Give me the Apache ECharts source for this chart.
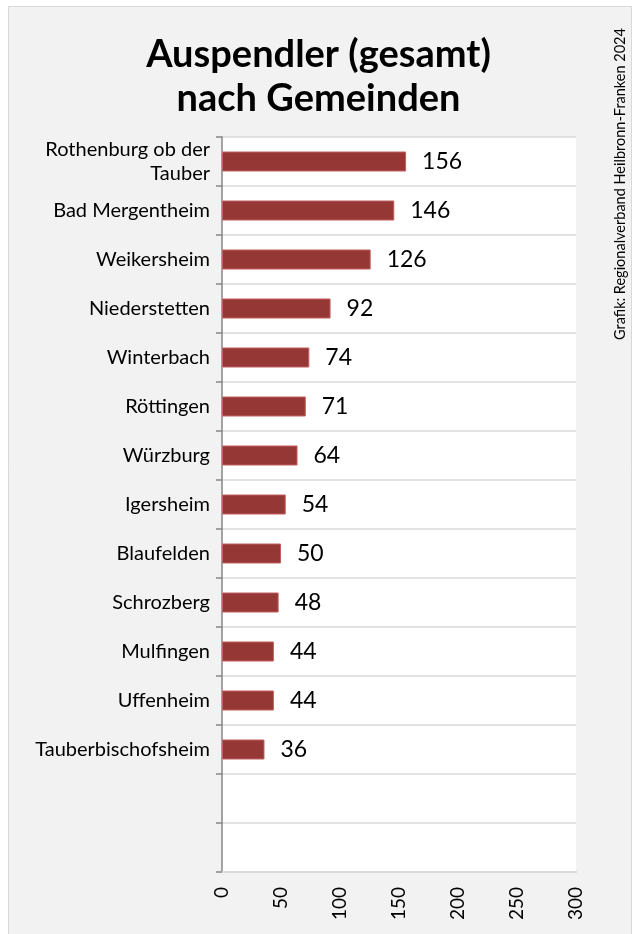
<!DOCTYPE html>
<html>
<head>
<meta charset="utf-8">
<script src="https://cdn.jsdelivr.net/npm/echarts@6/dist/echarts.min.js"></script>
<style>
html,body{margin:0;padding:0;background:#fff;}
#chart{width:637px;height:934px;}
</style>
</head>
<body>
<div id="chart"></div>
<script>
const categories = ['Rothenburg ob der\nTauber','Bad Mergentheim','Weikersheim','Niederstetten','Winterbach','Röttingen','Würzburg','Igersheim','Blaufelden','Schrozberg','Mulfingen','Uffenheim','Tauberbischofsheim',' ','  '];
const values = [156,146,126,92,74,71,64,54,50,48,44,44,36];
const xTicks = [0,50,100,150,200,250,300];
const titleText = 'Auspendler (gesamt)\nnach Gemeinden';
const sourceText = 'Grafik: Regionalverband Heilbronn-Franken 2024';

const FONT = 'Lato, "Open Sans", sans-serif';
const chart = echarts.init(document.getElementById('chart'), null, {renderer:'canvas'});
chart.setOption({
  backgroundColor: '#ffffff',
  animation: false,
  textStyle: {fontFamily: FONT},
  title: {
    text: titleText,
    left: 'center',
    top: 28,
    textStyle: {fontFamily: FONT, fontSize: 38, fontWeight: 'bold', color: '#000', lineHeight: 44}
  },
  graphic: [
    {type:'rect', z:-100, shape:{x:8.5, y:6.5, width:623, height:960}, style:{fill:'#f2f2f2', stroke:'#d9d9d9', lineWidth:1}},
    {type:'text', x:620, y:184, rotation: Math.PI/2, style:{text: sourceText, fontFamily: FONT, fontSize: 14.5, fill:'#000', align:'center', verticalAlign:'middle'}}
  ],
  grid: {left:222, top:137, right:61, bottom:62, show:true, backgroundColor:'#ffffff', borderWidth:0, containLabel:false},
  xAxis: {
    type:'value', min: xTicks[0], max: xTicks[xTicks.length-1], interval: xTicks[1]-xTicks[0],
    axisLine:{show:true, lineStyle:{color:'#d9d9d9', width:2}},
    axisTick:{show:false},
    splitLine:{show:false},
    axisLabel:{rotate:90, fontSize:19, color:'#000', margin:15, fontFamily: FONT}
  },
  yAxis: {
    type:'category', data: categories, inverse:true,
    axisLine:{show:true, lineStyle:{color:'#868686', width:1.5}},
    axisTick:{show:true, length:6, lineStyle:{color:'#868686', width:1.5}},
    splitLine:{show:true, lineStyle:{color:'#d9d9d9', width:1.5}},
    axisLabel:{fontSize:20, color:'#000', margin:12, align:'right', lineHeight:24, fontFamily: FONT, interval:0}
  },
  series: [{
    type:'bar', data: values, barWidth: 20,
    itemStyle:{color:'#953735', borderColor:'#c06060', borderWidth:1},
    label:{show:true, position:'right', distance:16, fontSize:23, color:'#000', fontFamily: FONT}
  }]
});
</script>
</body>
</html>
